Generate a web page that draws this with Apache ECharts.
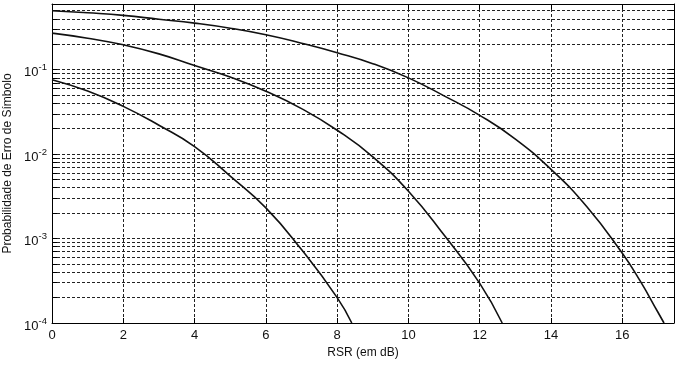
<!DOCTYPE html>
<html><head><meta charset="utf-8">
<script src="https://cdn.jsdelivr.net/npm/echarts@6/dist/echarts.min.js"></script>
<style>html,body{margin:0;padding:0;background:#fff}#c{width:678px;height:365px}</style>
</head><body><div id="c"></div>
<script>
// Curve A (lowest)
const snrA = [0, 1, 2, 3, 4, 5, 6, 7, 8, 8.41];
const serA = [0.076, 0.0558, 0.0368, 0.022, 0.0123, 0.0055, 0.00231, 0.00074, 0.0002, 0.0001];
// Curve B (middle)
const snrB = [0, 1, 2, 3, 4, 5, 6, 7, 8, 9, 10, 11, 12, 12.63];
const serB = [0.271, 0.236, 0.197, 0.154, 0.112, 0.0818, 0.0555, 0.0346, 0.0192, 0.0093, 0.00364, 0.0011, 0.000295, 0.0001];
// Curve C (top)
const snrC = [0, 1, 2, 3, 4, 5, 6, 7, 8, 9, 10, 11, 12, 13, 14, 15, 16, 16.5, 17, 17.17];
const serC = [0.50, 0.472, 0.44, 0.396, 0.356, 0.31, 0.259, 0.206, 0.159, 0.118, 0.080, 0.049, 0.0288, 0.0151, 0.0066, 0.0024, 0.00067, 0.000315, 0.000134, 0.0001];

const xMin = 0, xMax = 17.45, xStep = 2;
const yMin = 1e-4, yMax = 0.6;
const yGridValues = [2e-4,3e-4,4e-4,5e-4,6e-4,7e-4,8e-4,9e-4,
  1e-3,2e-3,3e-3,4e-3,5e-3,6e-3,7e-3,8e-3,9e-3,
  1e-2,2e-2,3e-2,4e-2,5e-2,6e-2,7e-2,8e-2,9e-2,
  1e-1,0.2,0.3,0.4,0.5];
const xLabel = 'RSR (em dB)';
const yLabel = 'Probabilidade de Erro de Símbolo';

const font = '"Liberation Sans", Arial, Helvetica, sans-serif';
const ink = '#000';
const zip = (xs, ys) => xs.map((x, i) => [x, ys[i]]);
const gridStyle = { color: '#222', width: 1, type: [3, 2] };
const tickLen = (xMax - xMin) * 5 / 622;

const decadeLabel = v => {
  const l = Math.log10(v), e = Math.round(l);
  if (Math.abs(l - e) > 1e-6) return '';
  return '{b|10}{s|' + e + '}';
};

const curve = (name, xs, ys, extra) => Object.assign({
  name, type: 'line', data: zip(xs, ys), showSymbol: false, smooth: 0.5,
  clip: true, silent: true,
  lineStyle: { color: '#111', width: 1.6 }, z: 5
}, extra || {});

const option = {
  animation: false,
  backgroundColor: '#fff',
  textStyle: { fontFamily: font },
  grid: { left: 52, right: 4, top: 4, bottom: 42, containLabel: false, outerBoundsMode: 'none' },
  xAxis: [{
    type: 'value', position: 'bottom', min: xMin, max: xMax, interval: xStep,
    name: xLabel, nameLocation: 'middle', nameGap: 24,
    nameTextStyle: { fontFamily: font, fontSize: 12, color: '#111' },
    axisLine: { show: true, onZero: false, lineStyle: { color: ink, width: 1 } },
    axisTick: { show: true, inside: true, length: 5, lineStyle: { color: ink } },
    axisLabel: { show: true, margin: 6, fontFamily: font, fontSize: 13, color: '#111', showMaxLabel: false },
    splitLine: { show: true, lineStyle: gridStyle }
  }, {
    type: 'value', position: 'top', min: xMin, max: xMax, interval: xStep,
    axisLine: { show: true, onZero: false, lineStyle: { color: ink, width: 1 } },
    axisTick: { show: true, inside: true, length: 5, lineStyle: { color: ink } },
    axisLabel: { show: false }, splitLine: { show: false }
  }],
  yAxis: [{
    type: 'log', logBase: 10, position: 'left', min: yMin, max: yMax,
    name: yLabel, nameLocation: 'middle', nameGap: 34, nameRotate: 90,
    nameTextStyle: { fontFamily: font, fontSize: 12, color: '#111' },
    axisLine: { show: true, onZero: false, lineStyle: { color: ink, width: 1 } },
    axisTick: { show: true, inside: true, length: 5, lineStyle: { color: ink } },
    axisLabel: {
      show: true, margin: 5, formatter: decadeLabel, showMaxLabel: false,
      rich: {
        b: { fontFamily: font, fontSize: 13, color: '#111', padding: [6, 0, 0, 0] },
        s: { fontFamily: font, fontSize: 9.5, color: '#111', padding: [0, 0, 4, 0] }
      }
    },
    splitLine: { show: false }
  }, {
    type: 'log', logBase: 10, position: 'right', min: yMin, max: yMax,
    axisLine: { show: true, onZero: false, lineStyle: { color: ink, width: 1 } },
    axisTick: { show: true, inside: true, length: 5, lineStyle: { color: ink } },
    axisLabel: { show: false }, splitLine: { show: false }
  }],
  series: [
    curve('A', snrA, serA, {
      markLine: {
        silent: true, symbol: 'none', animation: false, precision: 10,
        label: { show: false }, emphasis: { disabled: true },
        lineStyle: gridStyle,
        data: yGridValues.map(v => ({ yAxis: v }))
      }
    }),
    curve('B', snrB, serB, {
      markLine: {
        silent: true, symbol: 'none', animation: false, precision: 10,
        label: { show: false }, emphasis: { disabled: true },
        lineStyle: { color: ink, width: 1, type: 'solid' },
        data: yGridValues.map(v => [{ coord: [xMin, v] }, { coord: [xMin + tickLen, v] }])
          .concat(yGridValues.map(v => [{ coord: [xMax - tickLen, v] }, { coord: [xMax, v] }]))
      }
    }),
    curve('C', snrC, serC)
  ]
};

const chart = echarts.init(document.getElementById('c'), null, { renderer: 'canvas' });
chart.setOption(option);
</script>
</body></html>
